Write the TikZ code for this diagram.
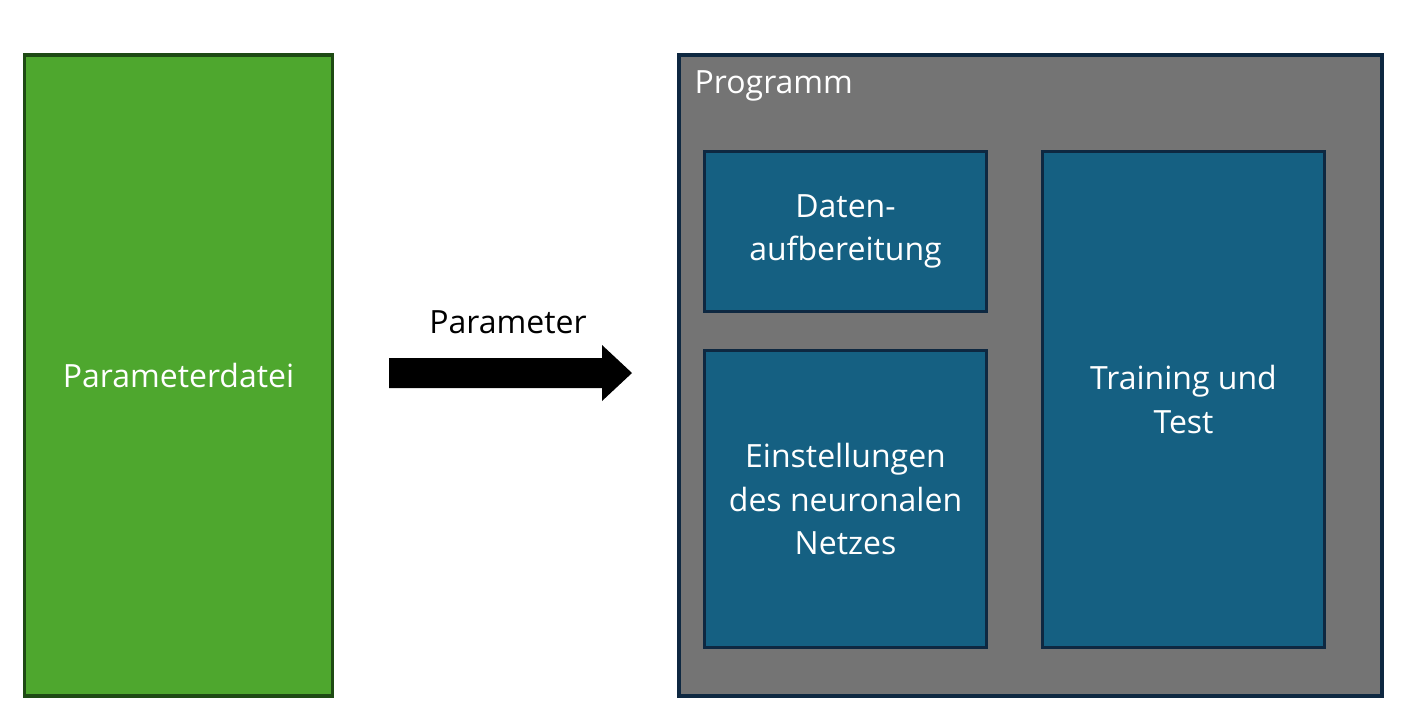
\documentclass[tikz,border=0pt]{standalone}
\usepackage{fontspec}
\setmainfont{Open Sans}
\usetikzlibrary{calc}

\definecolor{paramGreen}{HTML}{4EA72E}
\definecolor{paramGreenLine}{HTML}{1E4A14}
\definecolor{progGray}{HTML}{747474}
\definecolor{progLine}{HTML}{0E2841}
\definecolor{moduleBlue}{HTML}{156082}

\tikzset{
    boxtext/.style={
        font=\fontsize{24}{32.5}\selectfont,
        text=white,
        align=center
    },
    modulebox/.style={
        boxtext,
        draw=progLine,
        fill=moduleBlue,
        line width=2.4pt,
        inner sep=0pt
    }
}

\begin{document}
\begin{tikzpicture}[x=0.75pt, y=-0.75pt]

% Canvas
\useasboundingbox (0,0) rectangle (1420,722);

% Geometry (pixels of the reference)
\def\progLeft{679}
\def\progRight{1382}

% Parameter file
\node[
    boxtext,
    draw=paramGreenLine,
    fill=paramGreen,
    line width=2.4pt,
    minimum width=308*0.75pt,
    minimum height=641*0.75pt
] (datei) at (178.5,375.5) {Parameterdatei};

% Program frame
\node[
    draw=progLine,
    fill=progGray,
    line width=2.4pt,
    minimum width=703*0.75pt,
    minimum height=641*0.75pt
] (programm) at ({(\progLeft+\progRight)/2},375.5) {};
\node[boxtext, anchor=west] (programmTitel) at (690,86) {Programm};

% Modules
\node[modulebox, minimum width=282*0.75pt, minimum height=160*0.75pt]
    (daten) at (845.5,231.5) {Daten-\\aufbereitung};
\node[modulebox, minimum width=282*0.75pt, minimum height=297*0.75pt]
    (netz) at (845.5,499) {Einstellungen\\des neuronalen\\Netzes};
\node[modulebox, minimum width=282*0.75pt, minimum height=496*0.75pt]
    (training) at (1183.5,399.5) {Training und\\Test};

% Block arrow
\coordinate (pfeilStart) at (389,373);
\fill (pfeilStart) ++(0,-15) -- ++(213,0) -- ++(0,-13) -- (632,373)
    -- (602,401) -- ++(0,-13) -- ++(-213,0) -- cycle;
\node[font=\fontsize{24}{32.5}\selectfont] (pfeilText) at (508,322) {Parameter};

\end{tikzpicture}
\end{document}
